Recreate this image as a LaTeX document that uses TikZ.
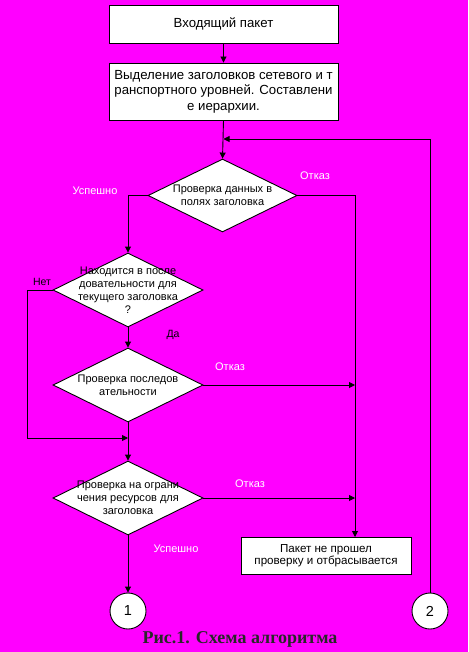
\documentclass[tikz,border=0pt]{standalone}
\usepackage{fontspec}
\setmainfont{Liberation Sans}
\newfontfamily\capfont{Liberation Serif}
\usetikzlibrary{arrows.meta,shapes.geometric}
\definecolor{bgmag}{RGB}{255,0,255}
\definecolor{capcol}{RGB}{40,40,40}
\begin{document}
\begin{tikzpicture}[x=1pt,y=-1pt,
  box/.style={draw=black,fill=white,line width=0.9pt,font=\fontsize{13.2}{15.5}\selectfont,align=center,inner sep=2pt},
  dia/.style={draw=black,fill=white,line width=0.9pt,shape=diamond,inner sep=0pt},
  dtext/.style={font=\fontsize{11}{13}\selectfont,align=center},
  conn/.style={draw=black,fill=white,line width=0.9pt,circle,inner sep=0pt,minimum size=36pt,font=\fontsize{14.5}{16}\selectfont},
  arr/.style={line width=0.9pt,-{Triangle[length=6pt,width=6pt]}},
  lbl/.style={font=\fontsize{11}{12}\selectfont,text=white},
  lblb/.style={font=\fontsize{10.5}{12}\selectfont,text=black}]
\useasboundingbox (0,0) rectangle (468,652);
\fill[bgmag] (0,0) rectangle (468,652);

\node[box,minimum width=229pt,minimum height=38pt] (b1) at (223.5,24) {Входящий пакет};
\node[box,minimum width=229pt,minimum height=57pt] (b2) at (223.5,91.5) {Выделение заголовков сетевого и т\\ранспортного уровней. Составлени\\е иерархии.};
\node[dia,minimum width=149pt,minimum height=73pt,
  label={[dtext]center:Проверка данных в\\полях заголовка}] (d1) at (222.5,195.5) {};
\node[dia,minimum width=150pt,minimum height=74pt,
  label={[dtext]center:Находится в после\\довательности для\\текущего заголовка\\?}] (d2) at (128,290) {};
\node[dia,minimum width=150pt,minimum height=74pt,
  label={[dtext]center:Проверка последов\\ательности}] (d3) at (128,385) {};
\node[dia,minimum width=150pt,minimum height=74pt,
  label={[dtext]center:Проверка на ограни\\чения ресурсов для\\заголовка}] (d4) at (128,498) {};
\node[box,minimum width=170pt,minimum height=37pt,font=\fontsize{11.6}{12}\selectfont] (b3) at (326,555.5) {Пакет не прошел\\проверку и отбрасывается};
\node[conn] (c1) at (128,611) {1};
\node[conn] (c2) at (430,611) {2};

\coordinate (loopc) at (223.5,139);
\coordinate (b3in) at (355,537);
\coordinate (j3) at (355,385);
\coordinate (j4) at (355,498);
\coordinate (j2) at (128,438);

\draw[arr] (b1.south) -- (b2.north);
\draw[arr] (b2.south) -- (d1.north);
\draw[arr] (c2.north) -- (c2.north |- loopc) -- (loopc);
\draw[arr] (d1.west) -| (d2.north);
\draw[arr] (d1.east) -| (b3in);
\draw[arr] (d2.west) -- ++(-25,0) |- (j2);
\draw[arr] (d2.south) -- (d3.north);
\draw[arr] (d3.east) -- (j3);
\draw[arr] (d3.south) -- (d4.north);
\draw[arr] (d4.east) -- (j4);
\draw[arr] (d4.south) -- (c1.north);

\node[lbl] (l1) at (95,191) {Успешно};
\node[lbl] (l2) at (315,176) {Отказ};
\node[lblb] (l3) at (42,282) {Нет};
\node[lblb] (l4) at (173,335) {Да};
\node[lbl] (l5) at (230,367) {Отказ};
\node[lbl] (l6) at (250,484) {Отказ};
\node[lbl] (l7) at (176,549) {Успешно};

\node[font=\capfont\bfseries\fontsize{18}{20}\selectfont,text=capcol] (cap) at (240,639) {Рис.1. Схема алгоритма};
\end{tikzpicture}
\end{document}
